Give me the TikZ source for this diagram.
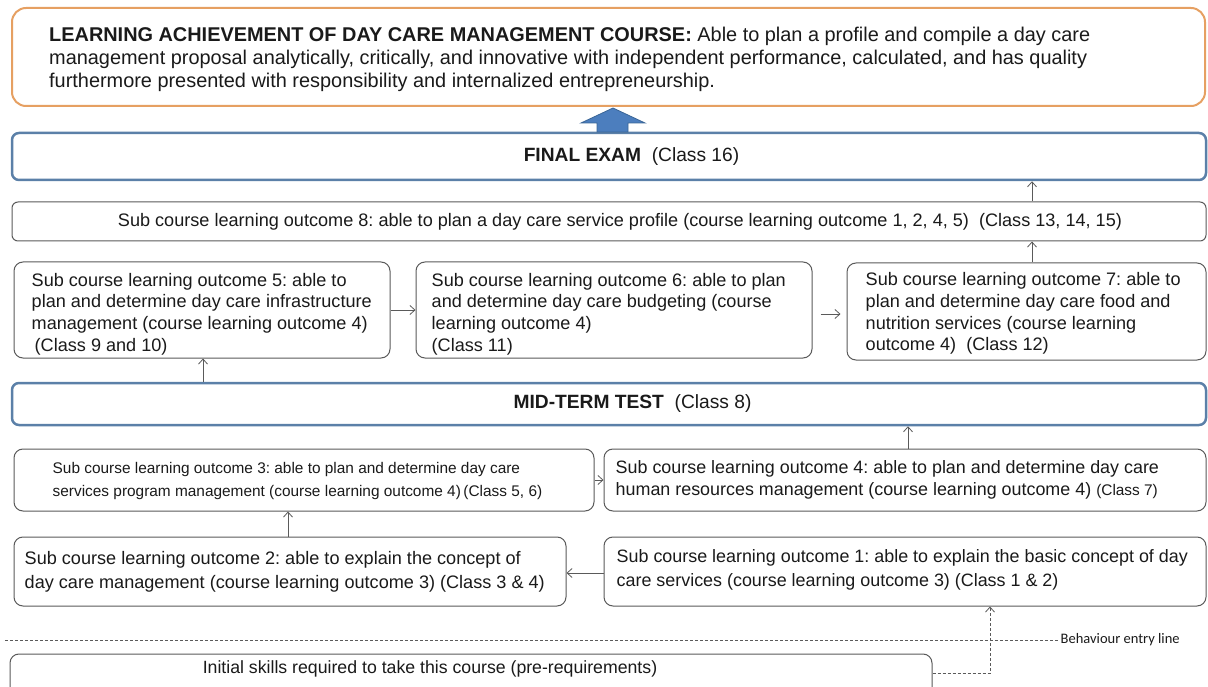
\documentclass[tikz,border=0pt]{standalone}
\usepackage{fontspec}
\setmainfont{Liberation Sans}
\newfontfamily\carl{Carlito}
\usetikzlibrary{arrows.meta}
\definecolor{txt}{HTML}{1A1A1A}
\definecolor{bord}{HTML}{5A5A5A}
\definecolor{orangeb}{HTML}{E6A062}
\definecolor{blueb}{HTML}{5B80A8}
\definecolor{bluef}{HTML}{4C7EBE}
\definecolor{bluedk}{HTML}{3A6596}
\tikzset{
  box/.style={draw=bord, line width=1pt, rounded corners=9pt, fill=white, inner sep=0pt},
  bigbox/.style={draw=blueb, line width=2.5pt, rounded corners=7pt, fill=white, inner sep=0pt},
  lbl/.style={text=txt, inner sep=0pt, align=left, anchor=west},
  conn/.style={draw=bord, line width=0.8pt, -{Straight Barb[length=5pt,width=9pt]}},
  dashconn/.style={draw=bord, line width=0.8pt, dash pattern=on 3pt off 2pt},
}
\begin{document}
\frenchspacing
\begin{tikzpicture}[x=1pt,y=-1pt]
\useasboundingbox (0,0) rectangle (1208,687);
% top box
\node[box, draw=orangeb, line width=2pt, rounded corners=14pt, minimum width=1193pt, minimum height=98pt] (goal) at (608.5,57) {};
\node[lbl, font=\fontsize{19.9}{23}\selectfont] (goaltext) at ([xshift=38pt,yshift=-2pt]goal.west)
  {\textbf{LEARNING ACHIEVEMENT OF DAY CARE MANAGEMENT COURSE:} Able to plan a profile and compile a day care\\
   management proposal analytically, critically, and innovative with independent performance, calculated, and has quality\\
   furthermore presented with responsibility and internalized entrepreneurship.};
% final exam
\node[bigbox, minimum width=1194pt, minimum height=47pt] (final) at (609,156.5) {};
\node[text=txt, inner sep=0pt, font=\fontsize{19.2}{22}\selectfont] (finaltext) at (631.5,156.5)
  {\textbf{FINAL EXAM}~~(Class 16)};
% blue block arrow
\fill[bluef, draw=bluedk, line width=0.8pt] (613,108) -- (645,123) -- (628,123) -- (628,132) -- (597,132) -- (597,123) -- (581,123) -- cycle;
% sub 8
\node[box, rounded corners=6pt, minimum width=1194pt, minimum height=39pt] (s8) at (609,221.5) {};
\node[text=txt, inner sep=0pt, font=\fontsize{18.1}{22}\selectfont] (s8text) at (620,221.5)
  {Sub course learning outcome 8: able to plan a day care service profile (course learning outcome 1, 2, 4, 5)~~(Class 13, 14, 15)};
% row 5-6-7
\node[box, minimum width=376pt, minimum height=96pt] (s5) at (202,310) {};
\node[lbl, font=\fontsize{18.1}{21.7}\selectfont] (s5text) at ([xshift=18pt,yshift=-4pt]s5.west)
  {Sub course learning outcome 5: able to\\plan and determine day care infrastructure\\management (course learning outcome 4)\\ \,(Class 9 and 10)};
\node[box, minimum width=396pt, minimum height=96pt] (s6) at (614,310) {};
\node[lbl, font=\fontsize{18.1}{21.7}\selectfont] (s6text) at ([xshift=16pt,yshift=-4pt]s6.west)
  {Sub course learning outcome 6: able to plan\\and determine day care budgeting (course\\learning outcome 4)\\(Class 11)};
\node[box, minimum width=359pt, minimum height=97pt] (s7) at (1026.5,311.5) {};
\node[lbl, font=\fontsize{18.1}{21.7}\selectfont] (s7text) at ([xshift=19pt,yshift=-2pt]s7.west)
  {Sub course learning outcome 7: able to\\plan and determine day care food and\\nutrition services (course learning\\outcome 4)~~(Class 12)};
% mid-term
\node[bigbox, minimum width=1194pt, minimum height=42pt] (mid) at (609,404) {};
\node[text=txt, inner sep=0pt, font=\fontsize{19.2}{22}\selectfont] (midtext) at (632.5,404)
  {\textbf{MID-TERM TEST}~~(Class 8)};
% row 3-4
\node[box, minimum width=580pt, minimum height=62pt] (s3) at (304,480) {};
\node[lbl, font=\fontsize{15.4}{23}\selectfont] (s3text) at ([xshift=39pt,yshift=-1pt]s3.west)
  {Sub course learning outcome 3: able to plan and determine day care\\services program management (course learning outcome 4)\,(Class 5, 6)};
\node[box, minimum width=602pt, minimum height=62pt] (s4) at (905,480) {};
\node[lbl, font=\fontsize{17.9}{22}\selectfont] (s4text) at ([xshift=12pt]s4.west)
  {Sub course learning outcome 4: able to plan and determine day care\\human resources management (course learning outcome 4) {\fontsize{15.4}{22}\selectfont(Class 7)}};
% row 2-1
\node[box, minimum width=552pt, minimum height=69pt] (s2) at (290,571.5) {};
\node[lbl, font=\fontsize{18.1}{24}\selectfont] (s2text) at ([xshift=11pt]s2.west)
  {Sub course learning outcome 2: able to explain the concept of\\day care management (course learning outcome 3) (Class 3 \& 4)};
\node[box, minimum width=602pt, minimum height=69pt] (s1) at (905,571.5) {};
\node[lbl, font=\fontsize{17.9}{24}\selectfont] (s1text) at ([xshift=13pt,yshift=2pt]s1.west)
  {Sub course learning outcome 1: able to explain the basic concept of day\\care services (course learning outcome 3) (Class 1 \& 2)};
% behaviour entry line
\coordinate (bl) at (5,640);
\coordinate (br) at (1059,640);
\draw[dashconn] (bl) -- (br);
\node[anchor=west, inner sep=1.5pt, text=txt, font=\carl\fontsize{14.5}{16}\selectfont] (blabel) at (br) {Behaviour entry line};
% initial skills
\node[box, minimum width=922pt, minimum height=70pt] (init) at (471,689) {};
\node[text=txt, inner sep=0pt, font=\fontsize{17.7}{22}\selectfont] (inittext) at (430,669)
  {Initial skills required to take this course (pre-requirements)};
% connectors
\draw[conn] (s8.north -| 1032,0) -- (final.south -| 1032,0);
\draw[conn] (s7.north -| 1032,0) -- (s8.south -| 1032,0);
\draw[conn] (mid.north -| 203,0) -- (s5.south -| 203,0);
\draw[conn] (s5.east |- 0,310) -- (s6.west |- 0,310);
\draw[conn, shorten <=8pt, shorten >=6pt] (s6.east |- 0,314) -- (s7.west |- 0,314);
\draw[conn] (s4.north -| 908,0) -- (mid.south -| 908,0);
\draw[conn] (s3.east |- 0,480) -- (s4.west |- 0,480);
\draw[conn] (s2.north -| 288,0) -- (s3.south -| 288,0);
\draw[conn] (s1.west |- 0,573) -- (s2.east |- 0,573);
\coordinate (bend) at (990,673);
\draw[dashconn, -{Straight Barb[length=5pt,width=9pt]}] (init.east |- 0,673) -- (bend) -- (s1.south -| bend);
\end{tikzpicture}
\end{document}
